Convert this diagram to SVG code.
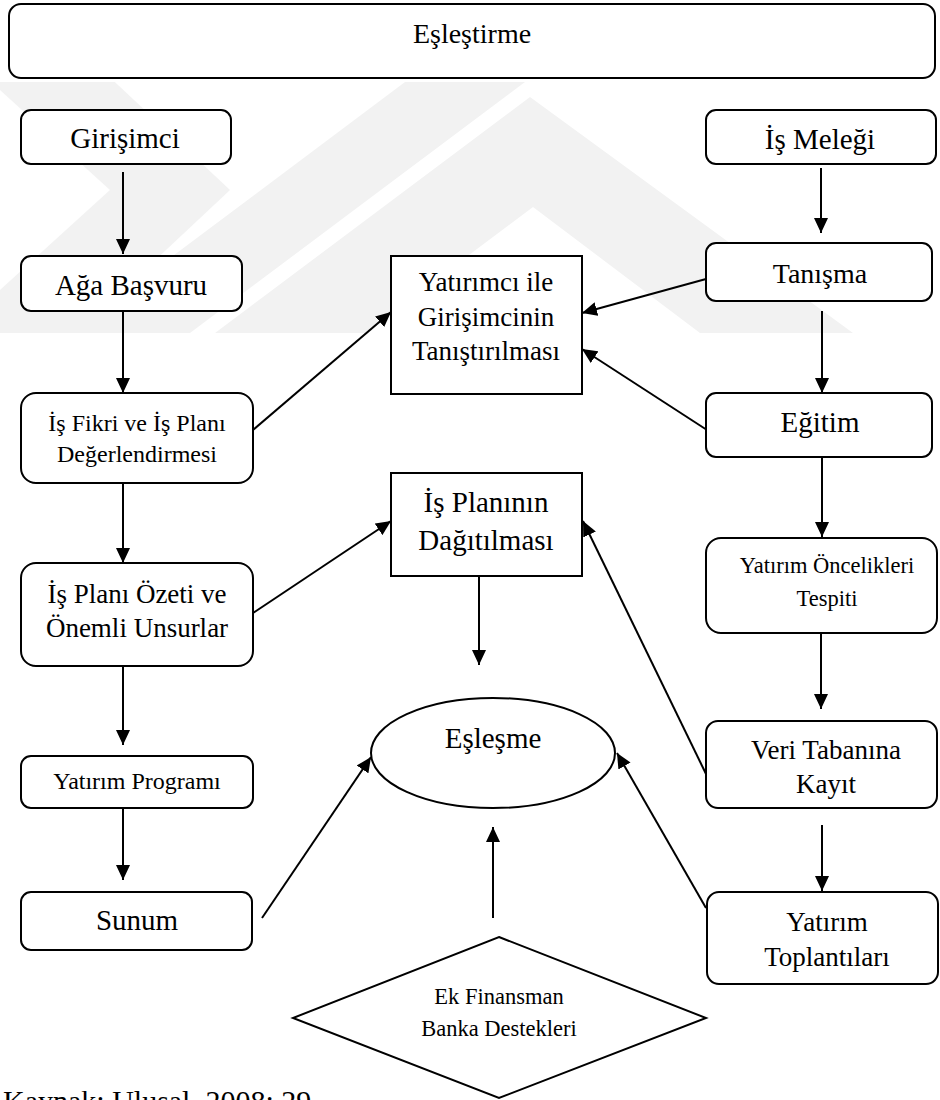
<svg xmlns="http://www.w3.org/2000/svg" width="940" height="1100" viewBox="0 0 940 1100">
  <style>
    text { font-family: "Liberation Serif", "Times New Roman", serif; fill: #000; }
    .box { fill: #fff; stroke: #000; stroke-width: 2; }
    .lbl { text-anchor: middle; }
    .f29 { font-size: 29px; }
    .f28 { font-size: 28px; }
    .f27 { font-size: 27px; }
    .f24 { font-size: 24px; }
    .f22 { font-size: 22.5px; }
    .edge { stroke: #000; stroke-width: 2; fill: none; marker-end: url(#ah); }
    .wm { fill: #f2f2f2; }
  </style>
  <defs>
    <marker id="ah" markerUnits="userSpaceOnUse" markerWidth="16" markerHeight="14" refX="15" refY="7" orient="auto" viewBox="0 0 16 14">
      <path d="M0,0 L15,7 L0,14 z" fill="#000"/>
    </marker>
    <clipPath id="wmclip">
      <rect x="0" y="82" width="940" height="251"/>
    </clipPath>
  </defs>

  <rect width="940" height="1100" fill="#fff"/>

  <!-- faint background emblem -->
  <g id="emblem" clip-path="url(#wmclip)">
    <polygon class="wm" points="0,40 70,40 230,190 70,340 0,340 0,290 110,190 0,90"/>
    <polygon class="wm" points="70,333 190,333 525,82 405,82"/>
    <polygon class="wm" points="215,333 365,333 533,207 700,333 853,333 530,97"/>
  </g>

  <!-- connectors -->
  <g id="connectors">
    <line class="edge" x1="123" y1="172" x2="123" y2="254"/>
    <line class="edge" x1="123" y1="311" x2="123" y2="393"/>
    <line class="edge" x1="123" y1="483" x2="123" y2="563"/>
    <line class="edge" x1="123" y1="666" x2="123" y2="745"/>
    <line class="edge" x1="123" y1="808" x2="123" y2="880"/>
    <line class="edge" x1="253" y1="430" x2="391" y2="312"/>
    <line class="edge" x1="253" y1="613" x2="391" y2="521"/>
    <line class="edge" x1="262" y1="918" x2="371" y2="757"/>
    <line class="edge" x1="479" y1="576" x2="479" y2="665"/>
    <line class="edge" x1="493" y1="918" x2="493" y2="827"/>
    <line class="edge" x1="706" y1="908" x2="617" y2="753"/>
    <line class="edge" x1="707" y1="776" x2="583" y2="521"/>
    <line class="edge" x1="706" y1="279" x2="582" y2="313"/>
    <line class="edge" x1="707" y1="430" x2="582" y2="349"/>
    <line class="edge" x1="821" y1="168" x2="821" y2="233"/>
    <line class="edge" x1="822" y1="311" x2="822" y2="393"/>
    <line class="edge" x1="822" y1="457" x2="822" y2="537"/>
    <line class="edge" x1="821" y1="633" x2="821" y2="709"/>
    <line class="edge" x1="822" y1="825" x2="822" y2="891"/>
  </g>

  <g id="eslestirme">
    <rect class="box" x="9" y="4" width="926" height="74" rx="12"/>
    <text class="lbl f28" x="472" y="43">Eşleştirme</text>
  </g>

  <g id="girisimci">
    <rect class="box" x="21" y="110" width="210" height="54" rx="10"/>
    <text class="lbl f29" x="125" y="148">Girişimci</text>
  </g>

  <g id="aga-basvuru">
    <rect class="box" x="21" y="256" width="221" height="55" rx="10"/>
    <text class="lbl f29" x="131" y="295">Ağa Başvuru</text>
  </g>

  <g id="is-fikri">
    <rect class="box" x="21" y="393" width="232" height="90" rx="15"/>
    <text class="lbl f24" x="137" y="431">İş Fikri ve İş Planı</text>
    <text class="lbl f24" x="137" y="462">Değerlendirmesi</text>
  </g>

  <g id="is-plani-ozeti">
    <rect class="box" x="21" y="563" width="232" height="103" rx="15"/>
    <text class="lbl f27" x="137" y="603">İş Planı Özeti ve</text>
    <text class="lbl f27" x="137" y="637">Önemli Unsurlar</text>
  </g>

  <g id="yatirim-programi">
    <rect class="box" x="21" y="756" width="232" height="52" rx="10"/>
    <text class="lbl f24" x="137" y="789">Yatırım Programı</text>
  </g>

  <g id="sunum">
    <rect class="box" x="21" y="892" width="231" height="58" rx="10"/>
    <text class="lbl f29" x="137" y="930">Sunum</text>
  </g>

  <g id="tanistirilmasi">
    <rect class="box" x="391" y="256" width="191" height="138"/>
    <text class="lbl f27" x="486" y="291">Yatırımcı ile</text>
    <text class="lbl f27" x="486" y="326">Girişimcinin</text>
    <text class="lbl f27" x="486" y="360">Tanıştırılması</text>
  </g>

  <g id="dagitilmasi">
    <rect class="box" x="391" y="473" width="191" height="103"/>
    <text class="lbl f29" x="486" y="512">İş Planının</text>
    <text class="lbl f29" x="486" y="550">Dağıtılması</text>
  </g>

  <g id="eslesme">
    <ellipse class="box" cx="493" cy="753" rx="122" ry="55"/>
    <text class="lbl f29" x="493" y="748">Eşleşme</text>
  </g>

  <g id="ek-finansman">
    <polygon class="box" points="499,937 706,1018 499,1098 293,1018"/>
    <text class="lbl f22" x="499" y="1004">Ek Finansman</text>
    <text class="lbl f22" x="499" y="1036">Banka Destekleri</text>
  </g>

  <g id="is-melegi">
    <rect class="box" x="706" y="110" width="230" height="54" rx="10"/>
    <text class="lbl f29" x="820" y="149">İş Meleği</text>
  </g>

  <g id="tanisma">
    <rect class="box" x="706" y="243" width="226" height="58" rx="10"/>
    <text class="lbl f28" x="820" y="283">Tanışma</text>
  </g>

  <g id="egitim">
    <rect class="box" x="706" y="393" width="226" height="64" rx="10"/>
    <text class="lbl f29" x="820" y="432">Eğitim</text>
  </g>

  <g id="oncelikler">
    <rect class="box" x="706" y="538" width="231" height="95" rx="15"/>
    <text class="lbl f22" x="827" y="573">Yatırım Öncelikleri</text>
    <text class="lbl f22" x="827" y="606">Tespiti</text>
  </g>

  <g id="veri-tabani">
    <rect class="box" x="706" y="721" width="231" height="87" rx="12"/>
    <text class="lbl f27" x="826" y="759">Veri Tabanına</text>
    <text class="lbl f27" x="826" y="793">Kayıt</text>
  </g>

  <g id="toplantilar">
    <rect class="box" x="707" y="892" width="231" height="92" rx="12"/>
    <text class="lbl f27" x="827" y="931">Yatırım</text>
    <text class="lbl f27" x="827" y="966">Toplantıları</text>
  </g>

  <g id="kaynak">
    <text x="3" y="1111" font-size="30">Kaynak: Ulusal, 2008: 29</text>
  </g>
</svg>
